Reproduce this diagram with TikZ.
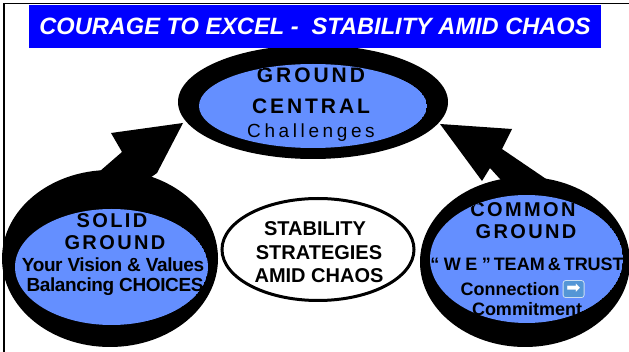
\documentclass[tikz,border=0pt]{standalone}
\usepackage{fontspec}
\setmainfont{Liberation Sans}
\newfontfamily\symfont{DejaVu Sans}
\usetikzlibrary{positioning}

\definecolor{titleblue}{RGB}{0,0,255}
\definecolor{hubblue}{RGB}{100,143,255}
\definecolor{iconblue}{RGB}{84,150,214}

\begin{document}
\begin{tikzpicture}[x=1pt, y=-1pt,
    word/.style={anchor=base, inner sep=0pt, font=\bfseries\fontsize{18}{18}\selectfont},
    tight/.style={word, font=\bfseries\fontsize{19}{19}\selectfont\addfontfeatures{LetterSpace=-2}},
    spaced/.style={word, font=\bfseries\fontsize{20}{20}\selectfont\addfontfeatures{LetterSpace=12}},
    big/.style={anchor=base, inner sep=0pt, font=\bfseries\fontsize{20}{20}\selectfont},
    bigspaced/.style={big, font=\bfseries\fontsize{21}{21}\selectfont\addfontfeatures{LetterSpace=14}},
    icon/.style={fill=iconblue, draw=white!70!iconblue, line width=0.8pt, rounded corners=2.5pt,
                 text=white, inner sep=0pt, minimum width=21pt, minimum height=17pt,
                 font=\symfont\fontsize{17}{17}\selectfont}]
    \useasboundingbox (0,0) rectangle (629,352);

    % page frame
    \draw[line width=1.2pt] (4,352) -- (4,3.5) -- (629,3.5);

    % block arrows to the top
    \fill (183,123) -- (111,133) -- (122,152) -- (92,178) -- (140,185) -- (157,173) -- cycle;
    \fill (440,124) -- (512,129) -- (502,149) -- (555,185) -- (510,190) -- (490,168) -- (482,181) -- cycle;

    % ground central
    \fill (313,102) ellipse [x radius=135, y radius=57];
    \begin{scope}
        \clip (313,106) ellipse [x radius=114, y radius=42];
        \fill[hubblue] (313,106) ellipse [x radius=114, y radius=42];
        \node[bigspaced] (gcA) at (311,83) {GROUND};
        \node[bigspaced] (gcB) at (311,114) {CENTRAL};
        \node[anchor=base, inner sep=0pt, font=\fontsize{19}{19}\selectfont\addfontfeatures{LetterSpace=19}] (gcC) at (311,138) {Challenges};
    \end{scope}

    % solid ground
    \fill (110,258.5) ellipse [x radius=108, y radius=88.5];
    \begin{scope}
        \clip (111.5,267) ellipse [x radius=96.5, y radius=58];
        \fill[hubblue] (111.5,267) ellipse [x radius=96.5, y radius=58];
        \node[spaced] (sgA) at (112,228) {SOLID};
        \node[spaced] (sgB) at (115,249.5) {GROUND};
        \node[tight] (sgC) at (113,271.5) {Your Vision \& Values};
        \node[tight] (sgD) at (115,291.5) {Balancing CHOICES};
    \end{scope}

    % common ground
    \fill (525,262) ellipse [x radius=105, y radius=85];
    \begin{scope}
        \clip (526.5,259) ellipse [x radius=96.5, y radius=64];
        \fill[hubblue] (526.5,259) ellipse [x radius=96.5, y radius=64];
        \node[spaced] (cgA) at (523,217) {COMMON};
        \node[spaced] (cgB) at (526,238.5) {GROUND};
        \node[word] (cgC) at (527,271) {{\addfontfeatures{LetterSpace=25}“WE”}\,TEAM\,\&\,TRUST};
        \node[word] (cgD) at (510,295.5) {Connection};
        \node[icon, right=3pt of cgD] (cgE) {➡};
        \node[word] (cgF) at (527,316) {Commitment};
    \end{scope}

    % stability strategies
    \draw[line width=3pt, fill=white] (318,249.5) ellipse [x radius=96, y radius=51];
    \node[big] (stA) at (315,236) {STABILITY};
    \node[big] (stB) at (319,259.5) {STRATEGIES};
    \node[big] (stC) at (319,282.5) {AMID CHAOS};

    % title bar
    \node[fill=titleblue, minimum width=572, minimum height=43, inner sep=0pt, text=white,
          font=\bfseries\itshape\fontsize{23.6}{23.6}\selectfont] (title) at (315,26.5)
          {COURAGE TO EXCEL -\ \ STABILITY AMID CHAOS};
\end{tikzpicture}
\end{document}
